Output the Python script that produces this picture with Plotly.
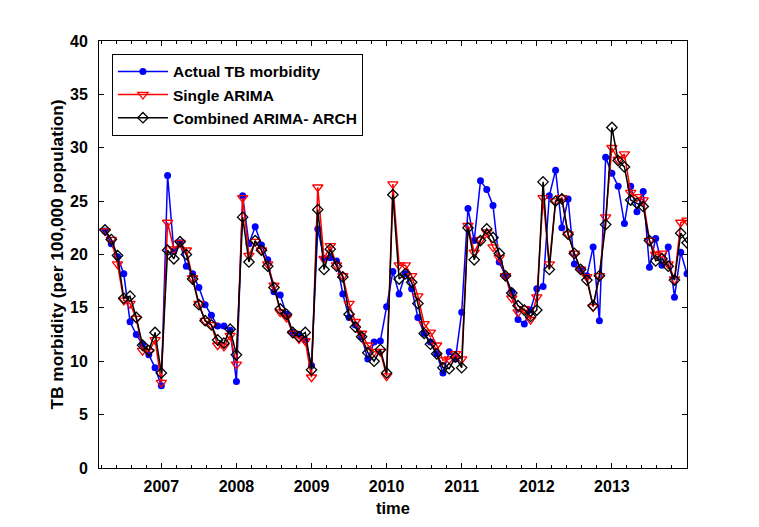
import numpy as np
import plotly.graph_objects as go

# monthly values, April 2006 .. January 2014 (decimal year axis)
start_year = 2006.25
actual = [22.2, 21.0, 19.8, 18.2, 13.7, 12.5, 11.6, 10.6, 9.4, 7.7,
          27.4, 20.3, 21.1, 18.9, 18.2, 16.9, 15.3, 14.3, 13.3, 13.3, 12.9,
          8.1, 25.5, 21.0, 22.6, 20.9, 19.5, 16.5, 16.2, 14.4, 12.7,
          12.5, 12.0, 9.6, 22.4, 19.6, 19.7, 19.4, 16.3, 14.1, 13.4, 12.3, 10.2, 11.8, 11.9,
          15.1, 18.4, 16.3, 18.2, 16.8, 14.1, 12.6, 11.8, 10.7, 8.9, 10.9, 10.2,
          14.6, 24.3, 21.3, 26.9, 26.1, 24.6, 19.3, 18.0, 16.5, 13.9, 13.5, 14.8,
          16.8, 17.0, 25.5, 27.9, 22.5, 25.2, 19.1, 18.6, 18.0, 20.7, 13.8,
          29.1, 27.6, 26.4, 22.9, 26.4, 24.0, 25.9, 18.8, 21.5, 19.0, 20.7, 16.0, 20.2, 18.2]
single_arima = [22.2, 21.4, 19.1, 15.7, 15.4, 14.0, 11.0, 10.9, 12.0, 8.0,
                23.0, 20.5, 21.1, 20.4, 17.8, 15.4, 13.8, 13.4, 11.5, 11.4, 12.4,
                9.7, 25.3, 19.9, 21.2, 20.4, 19.1, 17.1, 14.6, 14.1, 12.6,
                12.1, 11.9, 8.5, 26.3, 19.6, 20.8, 19.0, 18.0, 15.4, 13.7, 12.6, 11.5, 10.9, 10.9,
                8.6, 26.6, 19.0, 19.0, 18.0, 16.1, 13.5, 12.7, 11.5, 10.1, 10.2, 10.7,
                10.2, 22.7, 20.2, 21.4, 22.1, 20.7, 19.7, 18.0, 15.9, 14.6, 14.9, 13.9,
                16.0, 25.3, 19.1, 25.0, 25.3, 21.9, 20.1, 18.6, 17.9, 15.1, 18.0,
                23.5, 30.0, 28.9, 29.4, 25.8, 25.4, 25.1, 21.3, 20.0, 20.1, 19.1, 17.7, 23.0, 23.2]
combined = [22.3, 21.4, 19.9, 15.9, 16.1, 14.1, 11.5, 11.0, 12.7, 8.9,
            20.4, 19.6, 21.2, 20.0, 17.7, 15.3, 13.8, 13.4, 12.0, 11.7, 13.0,
            10.6, 23.5, 19.3, 21.3, 20.4, 18.9, 16.9, 14.9, 14.4, 12.7,
            12.3, 12.7, 9.2, 24.2, 18.6, 20.5, 18.9, 17.9, 14.4, 13.2, 12.3, 10.8, 10.0, 11.1,
            8.9, 25.6, 17.7, 18.2, 17.4, 15.4, 12.6, 11.6, 10.7, 9.4, 9.3, 10.4,
            9.4, 22.5, 19.5, 21.3, 22.4, 21.6, 20.1, 18.0, 16.4, 15.2, 14.8, 14.2,
            14.8, 26.8, 18.6, 25.0, 25.2, 21.9, 20.1, 18.6, 17.6, 15.2, 18.0,
            22.8, 31.9, 28.8, 28.2, 25.1, 24.8, 24.5, 21.3, 19.4, 19.6, 18.9, 17.6, 22.0, 21.1]
year_ticks = [2007, 2008, 2009, 2010, 2011, 2012, 2013]

t = start_year + np.arange(len(actual)) / 12.0

FONT = 'Liberation Sans, Arial'

fig = go.Figure()
fig.add_trace(go.Scatter(x=t, y=actual, name='Actual TB morbidity', mode='lines+markers',
                         line=dict(color='#0000ff', width=1.5),
                         marker=dict(symbol='circle', size=7, color='#0000ff')))
fig.add_trace(go.Scatter(x=t, y=single_arima, name='Single ARIMA', mode='lines+markers',
                         line=dict(color='#ff0000', width=1.5),
                         marker=dict(symbol='triangle-down-open', size=9, color='#ff0000',
                                     line=dict(width=1.3))))
fig.add_trace(go.Scatter(x=t, y=combined, name='Combined ARIMA- ARCH', mode='lines+markers',
                         line=dict(color='#000000', width=1.5),
                         marker=dict(symbol='diamond-open', size=8, color='#000000',
                                     line=dict(width=1.3))))

# page body has an 8px margin, so the plot box is shifted back by that much
fig.update_xaxes(range=[2006.17, 2014.0], tickvals=year_ticks, ticktext=[str(y) for y in year_ticks],
                 ticks='inside', ticklen=5, tickcolor='black', showline=True, linecolor='black',
                 linewidth=1, mirror='ticks', showgrid=False, zeroline=False,
                 tickfont=dict(family=FONT, size=16, weight='bold'), ticklabelstandoff=4,
                 minor=dict(tick0=2007, dtick=0.2, ticks='inside', ticklen=3, tickcolor='black'),
                 title=dict(text='time', standoff=8,
                            font=dict(family=FONT, size=16.5, weight='bold')))
fig.update_yaxes(range=[0, 40], tick0=0, dtick=5, ticks='inside', ticklen=5, tickcolor='black',
                 showline=True, linecolor='black', linewidth=1, mirror='ticks',
                 showgrid=False, zeroline=False,
                 tickfont=dict(family=FONT, size=16, weight='bold'), ticklabelstandoff=7,
                 title=dict(text='TB morbidity (per 100,000 population)', standoff=1,
                            font=dict(family=FONT, size=17.3, weight='bold')))
fig.update_layout(
    width=759, height=527,
    margin=dict(l=91, r=80, t=33, b=67),
    paper_bgcolor='white', plot_bgcolor='white',
    font=dict(family=FONT, size=15, color='black', weight='bold'),
    showlegend=True,
    legend=dict(x=0.022, y=0.97, xanchor='left', yanchor='top', bgcolor='white',
                bordercolor='black', borderwidth=1, itemwidth=50,
                font=dict(family=FONT, size=15.5, weight='bold')),
)
fig.write_html("out.html")
